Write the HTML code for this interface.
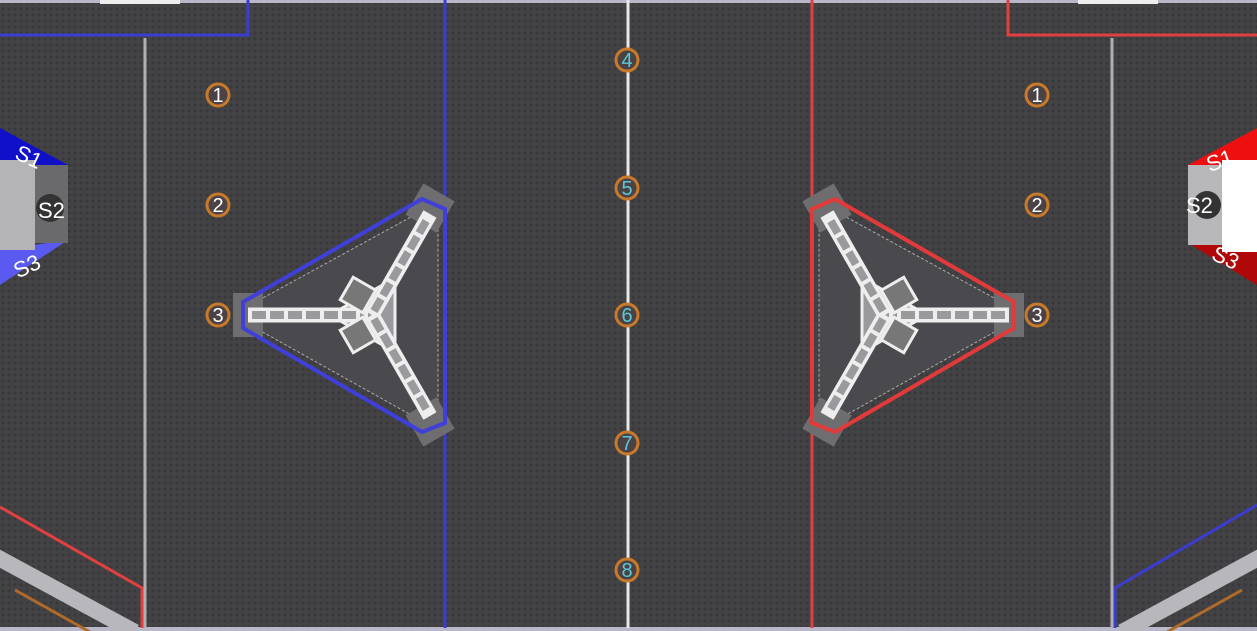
<!DOCTYPE html>
<html><head><meta charset="utf-8"><style>
html,body{margin:0;padding:0;background:#3f3f42;}
svg{display:block}
text{font-family:"Liberation Sans",sans-serif;}
</style></head><body>
<svg width="1257" height="631" viewBox="0 0 1257 631">
<defs>
<pattern id="carpet" width="6" height="6" patternUnits="userSpaceOnUse">
<rect width="6" height="6" fill="#434346"/><circle cx="3" cy="3" r="1.6" fill="#39393c"/>
</pattern>
<g id="truss">
<polygon points="250,305 420,212 438,216 438,418 420,420 250,325" fill="#4a4a4e" stroke="#aaa" stroke-width="1" stroke-dasharray="3,2"/>
<rect x="233" y="293" width="30" height="44" fill="#6e6e70"/>
<rect x="412" y="190" width="36" height="36" fill="#6e6e70" transform="rotate(30 430 208)"/>
<rect x="412" y="404" width="36" height="36" fill="#6e6e70" transform="rotate(-30 430 422)"/>
<polygon points="243,302 422,199 445,209 445,423 422,432 243,328" fill="none" stroke="currentColor" stroke-width="4"/>
<polygon points="330,315 395,278 395,352" fill="#9a9a9c" stroke="#eee" stroke-width="3"/>
<g stroke="#eee" stroke-width="15" fill="none">
<line x1="248" y1="315" x2="368" y2="315"/>
<line x1="372" y1="315" x2="430" y2="214"/>
<line x1="372" y1="315" x2="430" y2="416"/>
</g>
<g stroke="#9a9a9c" stroke-width="8" fill="none" stroke-dasharray="14,4">
<line x1="252" y1="315" x2="364" y2="315"/>
<line x1="374" y1="311" x2="428" y2="218"/>
<line x1="374" y1="319" x2="428" y2="412"/>
</g>
<rect x="345" y="282" width="26" height="26" fill="#777" stroke="#eee" stroke-width="3" transform="rotate(30 358 295)"/>
<rect x="345" y="322" width="26" height="26" fill="#777" stroke="#eee" stroke-width="3" transform="rotate(-30 358 335)"/>
</g>
</defs>
<rect width="1257" height="631" fill="url(#carpet)"/>
<rect x="0" y="0" width="1257" height="3" fill="#b8b8c8"/>
<rect x="100" y="0" width="80" height="4" fill="#eee"/><rect x="1078" y="0" width="80" height="4" fill="#eee"/>
<rect x="0" y="627" width="1257" height="4" fill="#b8b8c8"/>
<line x1="145" y1="38" x2="145" y2="628" stroke="#b0b0b4" stroke-width="3"/>
<line x1="1112" y1="38" x2="1112" y2="628" stroke="#b0b0b4" stroke-width="3"/>
<line x1="628" y1="0" x2="628" y2="628" stroke="#e8e8e8" stroke-width="3"/>
<line x1="445" y1="0" x2="445" y2="628" stroke="#3c3cd0" stroke-width="3"/>
<line x1="812" y1="0" x2="812" y2="628" stroke="#e04040" stroke-width="3"/>
<polyline points="0,35 248,35 248,0" fill="none" stroke="#3c3cd0" stroke-width="3"/>
<polyline points="1257,35 1008,35 1008,0" fill="none" stroke="#e04040" stroke-width="3"/>
<polyline points="0,507 142,588 142,628" fill="none" stroke="#e04040" stroke-width="3"/>
<polyline points="1257,505 1115,588 1115,628" fill="none" stroke="#3c3cd0" stroke-width="3"/>
<line x1="-5" y1="556" x2="135" y2="632" stroke="#b8b8bc" stroke-width="16"/>
<line x1="15" y1="590" x2="90" y2="632" stroke="#b06a2a" stroke-width="3"/>
<line x1="1262" y1="556" x2="1122" y2="632" stroke="#b8b8bc" stroke-width="16"/>
<line x1="1242" y1="590" x2="1167" y2="632" stroke="#b06a2a" stroke-width="3"/>
<g>
<polygon points="0,128 68,165 0,165" fill="#1010c8"/>
<polygon points="0,250 68,240 0,285" fill="#5a5af0"/>
<rect x="30" y="165" width="38" height="78" fill="#6a6a6c"/>
<circle cx="50" cy="208" r="14" fill="#333"/>
<rect x="0" y="160" width="35" height="90" fill="#b4b4b6"/>
<text x="15" y="165" font-size="22" fill="#fff" transform="rotate(25 30 158)">S1</text>
<text x="38" y="218" font-size="22" fill="#fff">S2</text>
<text x="12" y="272" font-size="22" fill="#fff" transform="rotate(-25 30 262)">S3</text>
</g>
<g>
<polygon points="1257,128 1188,165 1257,165" fill="#ee1010"/>
<polygon points="1257,285 1188,243 1257,243" fill="#b00808"/>
<rect x="1188" y="165" width="36" height="80" fill="#b8b8ba"/>
<circle cx="1207" cy="205" r="14" fill="#333"/>
<rect x="1222" y="160" width="35" height="92" fill="#ffffff"/>
<text x="1206" y="168" font-size="22" fill="#fff" transform="rotate(-20 1220 160)">S1</text>
<text x="1186" y="213" font-size="22" fill="#fff">S2</text>
<text x="1212" y="265" font-size="22" fill="#fff" transform="rotate(25 1225 258)">S3</text>
</g>
<use href="#truss" style="color:#4040d8"/>
<use href="#truss" style="color:#e03a3a" transform="translate(1257 0) scale(-1 1)"/>
<g id="markers"></g>
</svg>
<script>
const markerLabels=["1","2","3","1","2","3","4","5","6","7","8"];
const markerX=[218,218,218,1037,1037,1037,627,627,627,627,627];
const markerY=[95,205,315,95,205,315,60,188,315,443,570];
const g=document.getElementById('markers');
const NS="http://www.w3.org/2000/svg";
markerLabels.forEach((lab,i)=>{
  const c=document.createElementNS(NS,'circle');
  c.setAttribute('cx',markerX[i]);c.setAttribute('cy',markerY[i]);c.setAttribute('r',11);
  c.setAttribute('fill','#4a4244');c.setAttribute('stroke','#c87a2a');c.setAttribute('stroke-width',3);
  
  
  g.appendChild(c);
  const t=document.createElementNS(NS,'text');
  t.setAttribute('x',markerX[i]);t.setAttribute('y',markerY[i]+7);
  t.setAttribute('text-anchor','middle');t.setAttribute('font-size','20');
  t.setAttribute('fill',markerX[i]===627?'#5ac8d8':'#ffffff');
  t.textContent=lab;
  
  
  g.appendChild(t);
});
</script>
</body></html>
